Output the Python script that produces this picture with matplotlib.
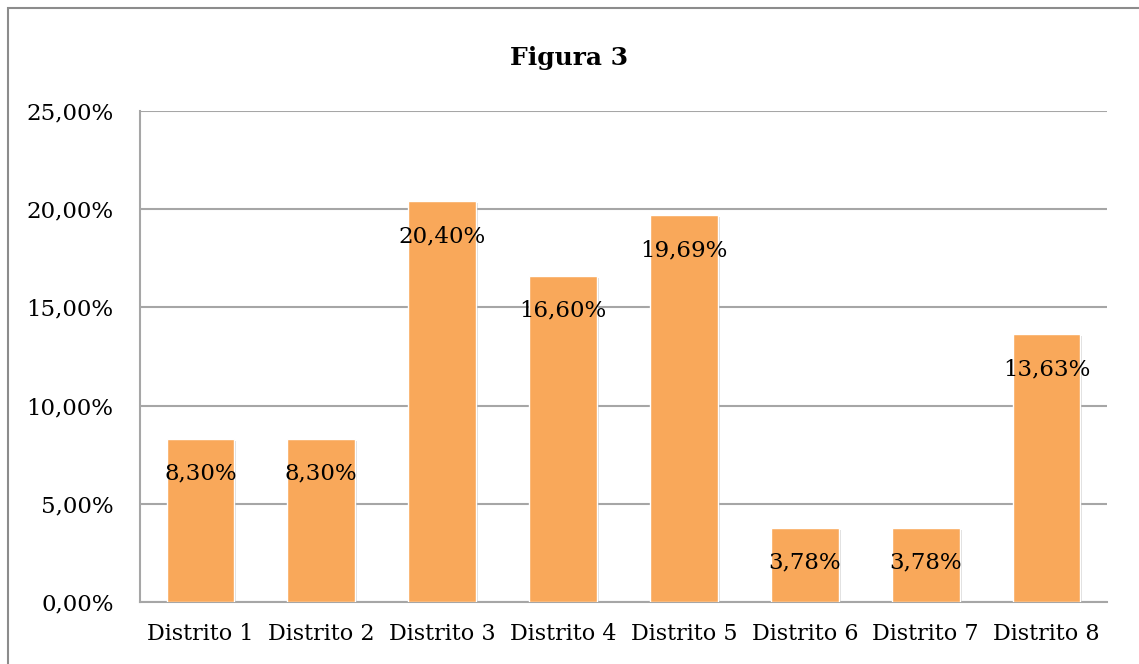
import matplotlib
matplotlib.use("Agg")
import matplotlib.pyplot as plt
import matplotlib.patheffects as pe
from matplotlib.patches import Rectangle

# datos
distritos = ["Distrito 1", "Distrito 2", "Distrito 3", "Distrito 4",
             "Distrito 5", "Distrito 6", "Distrito 7", "Distrito 8"]
porcentajes = [8.30, 8.30, 20.40, 16.60, 19.69, 3.78, 3.78, 13.63]
ticks_y = [0, 5, 10, 15, 20, 25]


def fmt(v):
    return f"{v:.2f}".replace(".", ",") + "%"


plt.rcParams['font.family'] = ['DejaVu Serif']

fig = plt.figure(figsize=(11.39, 6.64), dpi=100)
ax = fig.add_axes([0.1229, 0.0934, 0.849, 0.7394])

# marco exterior
fig.patches.append(Rectangle((0.007, -0.05), 1.1, 1.038, transform=fig.transFigure,
                             fill=False, edgecolor="#8c8c8c", linewidth=1.5))

x = range(len(distritos))
bars = ax.bar(x, porcentajes, width=0.56, color="#F9A85A", edgecolor="white",
              linewidth=1, zorder=3)
for b in bars:
    b.set_path_effects([pe.SimplePatchShadow(offset=(1.5, -1.5), shadow_rgbFace="#999999", alpha=0.35),
                        pe.Normal()])

for xi, v in zip(x, porcentajes):
    ax.annotate(fmt(v), (xi, v), xytext=(0, -25), textcoords="offset points",
                ha="center", va="center", fontsize=16.5, color="black", zorder=4)

ax.set_xlim(-0.5, len(distritos) - 0.5)
ax.set_ylim(0, 25)
ax.set_yticks(ticks_y)
ax.set_yticklabels([fmt(t) for t in ticks_y], fontsize=16.5)
ax.set_xticks(list(x))
ax.set_xticklabels(distritos, fontsize=16)
ax.tick_params(axis="x", length=0, pad=15)
ax.tick_params(axis="y", length=0, pad=19)

ax.grid(axis="y", color="#a6a6a6", linewidth=1.5, zorder=0)
for s in ["top", "right"]:
    ax.spines[s].set_visible(False)
for s in ["left", "bottom"]:
    ax.spines[s].set_color("#a6a6a6")
    ax.spines[s].set_linewidth(1.5)

fig.text(0.5, 0.913, "Figura 3", ha="center", va="center", fontsize=18, fontweight="bold")

fig.savefig("out.png", dpi=100)
